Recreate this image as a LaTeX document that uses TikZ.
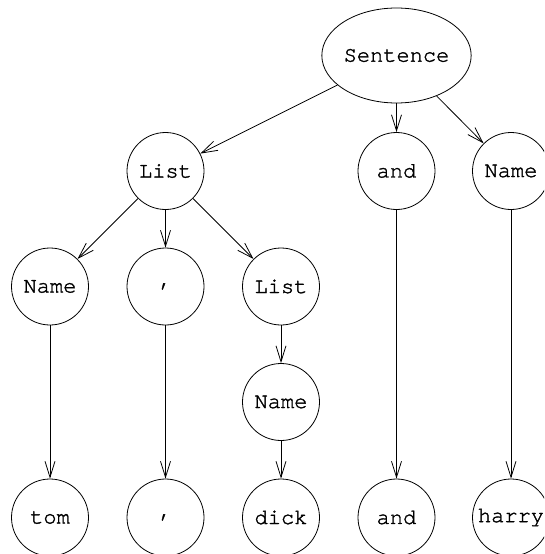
\documentclass[tikz,border=0pt]{standalone}
\usepackage{fontspec}
\newfontfamily\treefont{TeX Gyre Cursor}[BoldFont={TeX Gyre Cursor}, BoldFeatures={FakeBold=1.5}]
\usetikzlibrary{shapes.geometric,arrows.meta}
\begin{document}
\begin{tikzpicture}[x=1pt,y=-1pt,
  tnode/.style={circle, draw, line width=0.8pt, minimum size=77pt, inner sep=0pt,
    font=\treefont\bfseries\fontsize{22}{22}\selectfont},
  enode/.style={ellipse, draw, line width=0.8pt, minimum width=145pt, minimum height=95pt, inner sep=0pt,
    font=\treefont\bfseries\fontsize{22}{22}\selectfont},
  link/.style={line width=0.8pt, -{Straight Barb[length=16pt,width=10pt,line width=0.8pt]}}]
\useasboundingbox (0,0) rectangle (544,554);
\clip (0,0) rectangle (544,554);
\node[enode] (s) at (396.5,55.5) {Sentence};
\node[tnode] (l1) at (165.5,171) {List};
\node[tnode] (a1) at (396.5,171) {and};
\node[tnode] (n1) at (511,171) {Name};
\node[tnode] (n2) at (50,286.5) {Name};
\node[tnode] (c1) at (165.5,286.5) {,};
\node[tnode] (l2) at (281,286.5) {List};
\node[tnode] (n3) at (281,402) {Name};
\node[tnode] (t) at (50,517.5) {tom};
\node[tnode] (c2) at (165.5,517.5) {,};
\node[tnode] (d) at (281,517.5) {dick};
\node[tnode] (a2) at (396.5,517.5) {and};
\node[tnode] (h) at (511,517.5) {harry};
\draw[link] (s) -- (l1);
\draw[link] (s) -- (a1);
\draw[link] (s) -- (n1);
\draw[link] (l1) -- (n2);
\draw[link] (l1) -- (c1);
\draw[link] (l1) -- (l2);
\draw[link] (l2) -- (n3);
\draw[link] (n2) -- (t);
\draw[link] (c1) -- (c2);
\draw[link] (n3) -- (d);
\draw[link] (a1) -- (a2);
\draw[link] (n1) -- (h);
\end{tikzpicture}
\end{document}
